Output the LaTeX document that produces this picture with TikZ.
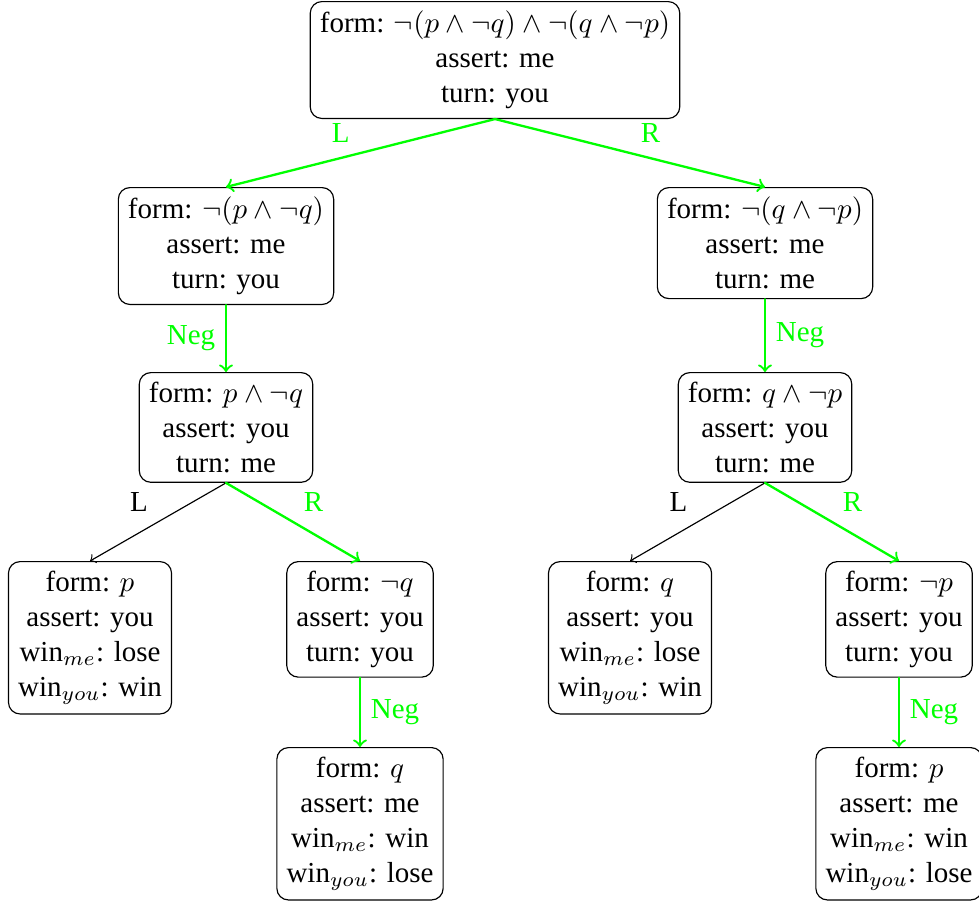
\documentclass[tikz,border=0pt]{standalone}
\usepackage{amsmath}
\usepackage{amssymb}
\usepackage{fontspec}
\setmainfont{Liberation Serif}
\usepackage{pgf,tikz}

\tikzset{
  state/.style={draw, rounded corners, align=center, anchor=north},
  gedge/.style={->, green, thick},
  bedge/.style={->}
}

\begin{document}
\begin{tikzpicture}[line cap=round,line join=round,>=to,x=0.345pt,y=-0.345pt]
\useasboundingbox (0,0) rectangle (979,905);
% root and first moves
\node[state] (root) at (495,1) {form: $\neg(p\wedge\neg q)\wedge\neg(q\wedge\neg p)$\\ assert: me\\ turn: you};
\node[state] (l) at (226,187) {form: $\neg(p\wedge\neg q)$\\ assert: me\\ turn: you};
\node[state] (r) at (765,187) {form: $\neg(q\wedge\neg p)$\\ assert: me\\ turn: me};
\draw[gedge] (root.south) -- node[above left] {L} (l.north);
\draw[gedge] (root.south) -- node[above right] {R} (r.north);
% negations
\node[state] (ln) at (226,372) {form: $p\wedge\neg q$\\ assert: you\\ turn: me};
\node[state] (rn) at (765,372) {form: $q\wedge\neg p$\\ assert: you\\ turn: me};
\draw[gedge] (l.south) -- node[left] {Neg} (ln.north);
\draw[gedge] (r.south) -- node[right] {Neg} (rn.north);
% left branch
\node[state] (lnl) at (90,561) {form: $p$\\ assert: you\\ win$_{me}$: lose\\ win$_{you}$: win};
\node[state] (lnr) at (360,561) {form: $\neg q$\\ assert: you\\ turn: you};
\node[state] (lnrn) at (360,747) {form: $q$\\ assert: me\\ win$_{me}$: win\\ win$_{you}$: lose};
\draw[bedge] (ln.south) -- node[above left] {L} (lnl.north);
\draw[gedge] (ln.south) -- node[above right] {R} (lnr.north);
\draw[gedge] (lnr.south) -- node[right] {Neg} (lnrn.north);
% right branch
\node[state] (rnl) at (630,561) {form: $q$\\ assert: you\\ win$_{me}$: lose\\ win$_{you}$: win};
\node[state] (rnr) at (899,561) {form: $\neg p$\\ assert: you\\ turn: you};
\node[state] (rnrn) at (899,747) {form: $p$\\ assert: me\\ win$_{me}$: win\\ win$_{you}$: lose};
\draw[bedge] (rn.south) -- node[above left] {L} (rnl.north);
\draw[gedge] (rn.south) -- node[above right] {R} (rnr.north);
\draw[gedge] (rnr.south) -- node[right] {Neg} (rnrn.north);
\end{tikzpicture}
\end{document}
